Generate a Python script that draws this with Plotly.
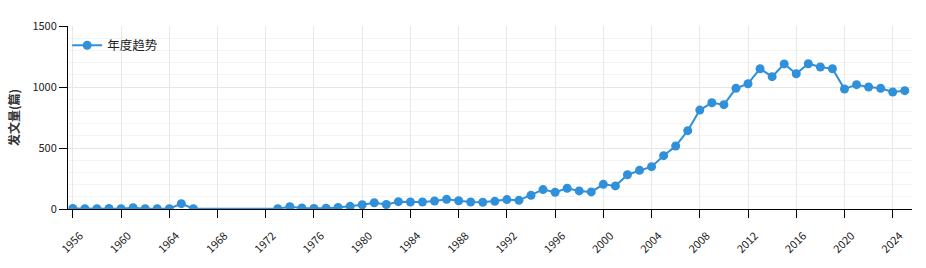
import plotly.graph_objects as go

years = [1956, 1957, 1958, 1959, 1960, 1961, 1962, 1963, 1964, 1965, 1966,
         1973, 1974, 1975, 1976, 1977, 1978, 1979, 1980, 1981, 1982, 1983,
         1984, 1985, 1986, 1987, 1988, 1989, 1990, 1991, 1992, 1993, 1994,
         1995, 1996, 1997, 1998, 1999, 2000, 2001, 2002, 2003, 2004, 2005,
         2006, 2007, 2008, 2009, 2010, 2011, 2012, 2013, 2014, 2015, 2016,
         2017, 2018, 2019, 2020, 2021, 2022, 2023, 2024, 2025]
counts = [4, 3, 2, 5, 3, 10, 2, 3, 2, 44, 2,
          3, 18, 8, 4, 6, 12, 22, 35, 51, 37, 60,
          57, 57, 66, 79, 68, 57, 55, 63, 77, 71, 112,
          159, 137, 170, 148, 140, 202, 189, 281, 317, 347, 437,
          516, 642, 811, 871, 855, 989, 1027, 1150, 1085, 1189, 1109,
          1191, 1164, 1150, 984, 1019, 1000, 989, 959, 970]

series_name = "年度趋势"
y_title = "发文量(篇)"
color = "#3090DA"
font_family = "Noto Sans CJK SC, Noto Sans, sans-serif"

fig = go.Figure()
fig.add_trace(go.Scatter(
    x=years, y=counts, mode="lines+markers", name=series_name,
    line=dict(color=color, width=2),
    marker=dict(color=color, size=9),
))

fig.update_layout(
    width=926, height=268,
    margin=dict(l=68, r=14, t=26, b=59),
    paper_bgcolor="white", plot_bgcolor="white",
    font=dict(family=font_family, size=11, color="#222"),
    showlegend=True,
    legend=dict(x=-0.001, y=0.975, xanchor="left", yanchor="top",
                bgcolor="rgba(0,0,0,0)", font=dict(size=12.5, color="#222")),
    xaxis=dict(
        range=[1955.6, 2025.6], tick0=1956, dtick=4, tickangle=-45,
        showline=True, linecolor="black", linewidth=1,
        ticks="outside", ticklen=8, tickcolor="black",
        ticklabelshift=7, ticklabelstandoff=7,
        showgrid=True, gridcolor="#e8e8e8", gridwidth=1, zeroline=False,
        tickfont=dict(size=11, color="#222"),
    ),
    yaxis=dict(
        range=[0, 1500], tick0=0, dtick=500,
        showline=True, linecolor="black", linewidth=1,
        ticks="outside", ticklen=8, tickcolor="black",
        showgrid=True, gridcolor="#e6e6e6", gridwidth=1, zeroline=False,
        minor=dict(dtick=100, showgrid=True, gridcolor="#f3f3f3", ticks=""),
        tickfont=dict(size=11, color="#222"),
        title=dict(text="<b>" + y_title + "</b>", font=dict(size=12, color="#333"), standoff=10),
    ),
)

fig.write_html("out.html")
